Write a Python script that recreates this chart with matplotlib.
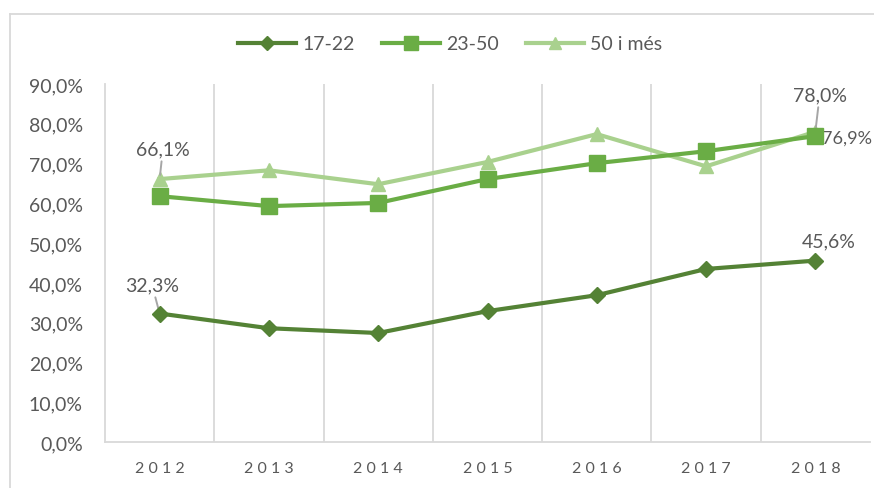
import matplotlib.pyplot as plt
from matplotlib.lines import Line2D

years = ["2012", "2013", "2014", "2015", "2016", "2017", "2018"]
s_17_22 = [32.3, 28.6, 27.4, 32.9, 36.9, 43.5, 45.6]
s_23_50 = [61.8, 59.3, 60.1, 66.1, 70.1, 73.1, 76.9]
s_50_mes = [66.1, 68.3, 64.8, 70.4, 77.4, 69.3, 78.0]
labels = ["17-22", "23-50", "50 i més"]

plt.rcParams['font.family'] = ['Lato', 'DejaVu Sans']
grey = "#595959"
c1, c2, c3 = "#548235", "#6aad45", "#a9d18e"

fig = plt.figure(figsize=(8.74, 4.89), dpi=100)
ax = fig.add_axes([105 / 874, 46 / 489, 765 / 874, 358 / 489])

x = list(range(len(years)))
ax.plot(x, s_50_mes, color=c3, lw=3, marker="^", ms=10, zorder=3)
ax.plot(x, s_23_50, color=c2, lw=3, marker="s", ms=11.5, zorder=4)
ax.plot(x, s_17_22, color=c1, lw=3, marker="D", ms=8, zorder=5)

ax.set_xlim(-0.5, len(years) - 0.5)
ax.set_ylim(0, 90)
ax.set_yticks(range(0, 91, 10))
ax.set_yticklabels([f"{v},0%" for v in range(0, 91, 10)], fontsize=14, color=grey)
ax.set_xticks(x)
ax.set_xticklabels([" ".join(y) for y in years], fontsize=11.5, color=grey)
ax.tick_params(axis="y", length=0, pad=16)
ax.tick_params(axis="x", length=0, pad=14)

for b in [i - 0.5 for i in range(1, len(years))]:
    ax.axvline(b, color="#d9d9d9", lw=1.3, zorder=1)
for s in ["top", "right"]:
    ax.spines[s].set_visible(False)
for s in ["left", "bottom"]:
    ax.spines[s].set_color("#d9d9d9")
    ax.spines[s].set_linewidth(1.3)

def pct(v):
    return f"{v:.1f}%".replace(".", ",")

arrow = dict(arrowstyle="-", color="#a6a6a6", lw=1.4, shrinkA=1, shrinkB=3)
fs = 14
ax.annotate(pct(s_50_mes[0]), xy=(0, s_50_mes[0]), xytext=(0.03, 71.6),
            ha="center", va="bottom", fontsize=fs, color=grey, arrowprops=arrow)
ax.annotate(pct(s_17_22[0]), xy=(0, s_17_22[0]), xytext=(-0.07, 37.4),
            ha="center", va="bottom", fontsize=fs, color=grey, arrowprops=arrow)
ax.annotate(pct(s_50_mes[6]), xy=(6, s_50_mes[6]), xytext=(6.04, 85.2),
            ha="center", va="bottom", fontsize=fs, color=grey, arrowprops=arrow)
ax.text(6.065, s_23_50[6] - 0.5, pct(s_23_50[6]), ha="left", va="center", fontsize=13, color=grey)
ax.text(6.12, 48.3, pct(s_17_22[6]), ha="center", va="bottom", fontsize=fs, color=grey)

handles = [
    Line2D([0], [0], color=c1, lw=3, marker="D", ms=7),
    Line2D([0], [0], color=c2, lw=3, marker="s", ms=10),
    Line2D([0], [0], color=c3, lw=3, marker="^", ms=9),
]
fig.legend(handles, labels, loc="center", bbox_to_anchor=(450 / 874, 1 - 45 / 489),
           ncol=3, frameon=False, fontsize=14, labelcolor=grey,
           handlelength=3.0, handletextpad=0.3, columnspacing=1.4)

# chart frame
fig.add_artist(Line2D([10 / 874, 10 / 874], [0, 1 - 15 / 489], transform=fig.transFigure,
                      color="#d9d9d9", lw=1.3))
fig.add_artist(Line2D([10 / 874, 1], [1 - 15 / 489, 1 - 15 / 489], transform=fig.transFigure,
                      color="#d9d9d9", lw=1.3))

fig.savefig("out.png", dpi=100)
